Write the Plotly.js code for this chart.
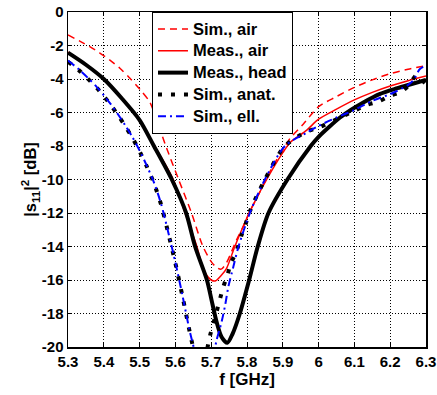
<!DOCTYPE html>
<html><head><meta charset="utf-8">
<script src="https://cdn.plot.ly/plotly-3.0.1.min.js"></script>
<style>html,body{margin:0;padding:0;background:#fff}</style>
</head><body><div id="chart" style="width:437px;height:395px"></div>
<script>
// Sim., air (red dashed)
const fSimAir = [5.30,5.334,5.361,5.389,5.417,5.445,5.473,5.501,5.529,5.550,5.575,5.609,5.645,5.677,5.700,5.715,5.728,5.742,5.757,5.771,5.790,5.808,5.830,5.850,5.878,5.900,5.920,5.957,6.000,6.050,6.100,6.150,6.200,6.250,6.300];
const dbSimAir = [-1.37,-1.75,-2.07,-2.45,-2.87,-3.36,-3.95,-4.62,-5.40,-6.6,-8.1,-10.0,-12.0,-14.0,-14.9,-15.25,-15.35,-15.0,-14.3,-13.6,-12.8,-11.9,-11.0,-10.1,-9.0,-8.24,-7.55,-6.7,-5.65,-5.05,-4.5,-4.05,-3.68,-3.42,-3.2];
// Meas., air (red solid)
const fMeasAir = [5.30,5.35,5.40,5.45,5.50,5.55,5.594,5.627,5.660,5.673,5.687,5.700,5.711,5.729,5.743,5.766,5.806,5.855,5.900,5.920,5.967,6.000,6.050,6.100,6.150,6.200,6.250,6.300];
const dbMeasAir = [-2.4,-3.12,-3.98,-5.1,-6.5,-8.3,-10.0,-12.0,-14.0,-15.0,-15.7,-16.0,-16.06,-15.7,-15.3,-14.0,-12.0,-10.0,-8.4,-7.8,-7.05,-6.4,-5.8,-5.25,-4.8,-4.42,-4.1,-3.82];
// Meas., head (black solid)
const fMeasHead = [5.30,5.35,5.40,5.45,5.50,5.54,5.59,5.63,5.655,5.688,5.701,5.715,5.729,5.745,5.76,5.78,5.806,5.83,5.86,5.913,5.978,6.00,6.03,6.06,6.09,6.125,6.17,6.22,6.26,6.30];
const dbMeasHead = [-2.43,-3.15,-4.0,-5.15,-6.45,-8.0,-10.0,-12.0,-14.0,-16.0,-17.2,-18.5,-19.4,-19.75,-19.2,-18.0,-16.0,-14.0,-12.0,-10.0,-8.0,-7.45,-6.85,-6.3,-5.85,-5.4,-4.9,-4.55,-4.3,-4.05];
// Sim., anat. (black dotted)
const fSimAnat = [5.30,5.33,5.355,5.38,5.40,5.42,5.44,5.46,5.48,5.50,5.52,5.54,5.56,5.58,5.60,5.62,5.64,5.65,5.67,5.69,5.697,5.706,5.715,5.725,5.734,5.747,5.753,5.766,5.775,5.785,5.794,5.808,5.85,5.906,5.967,6.00,6.05,6.10,6.134,6.166,6.20,6.232,6.255,6.272,6.285,6.30];
const dbSimAnat = [-2.97,-3.47,-3.97,-4.52,-5.02,-5.57,-6.17,-6.82,-7.52,-8.32,-9.22,-10.22,-11.5,-13.2,-15.0,-17.0,-19.1,-20.1,-22.5,-20.0,-19.3,-18.6,-17.9,-17.1,-16.4,-15.6,-15.1,-14.5,-14.0,-13.3,-12.8,-11.9,-10.0,-8.0,-7.14,-6.9,-6.4,-5.9,-5.55,-5.35,-5.0,-4.75,-4.3,-3.8,-4.0,-4.3];
// Sim., ell. (blue dash-dot)
const fSimEll = [5.30,5.33,5.355,5.38,5.40,5.42,5.44,5.46,5.48,5.50,5.52,5.54,5.56,5.58,5.60,5.62,5.64,5.652,5.68,5.71,5.715,5.729,5.739,5.748,5.762,5.775,5.808,5.85,5.906,5.967,6.00,6.05,6.10,6.15,6.20,6.25,6.265,6.283,6.30];
const dbSimEll = [-2.9,-3.42,-3.92,-4.47,-4.97,-5.52,-6.12,-6.77,-7.47,-8.27,-9.17,-10.17,-11.45,-13.15,-14.95,-16.95,-19.05,-20.1,-23.0,-20.1,-19.6,-18.5,-17.5,-16.4,-15.2,-14.1,-12.0,-10.0,-8.0,-7.2,-6.8,-6.3,-5.85,-5.3,-4.9,-4.35,-4.06,-3.4,-3.2];

const seriesNames = ['Sim., air','Meas., air','Meas., head','Sim., anat.','Sim., ell.'];
const xTickVals = [5.3,5.4,5.5,5.6,5.7,5.8,5.9,6.0,6.1,6.2,6.3];
const xTickText = ['5.3','5.4','5.5','5.6','5.7','5.8','5.9','6','6.1','6.2','6.3'];
const yTickVals = [0,-2,-4,-6,-8,-10,-12,-14,-16,-18,-20];
const yTickText = ['0','-2','-4','-6','-8','-10','-12','-14','-16','-18','-20'];
const xTitle = 'f [GHz]';
const yTitle = '|s<sub>11</sub>|<sup>2</sup> [dB]';

const FONT = 'Arial, Liberation Sans, sans-serif';
const fnt = (sz) => ({family:FONT, size:sz, color:'#000', weight:700});
const legName = s => '<span style="font-size:16.5px">' + s + '</span>';
const SM = 0.8;
const traces = [
  {x:fSimAir, y:dbSimAir, name:legName(seriesNames[0]), mode:'lines', line:{color:'#ff0000', width:1.5, dash:'7px,5px', shape:'spline', smoothing:SM}},
  {x:fMeasAir, y:dbMeasAir, name:legName(seriesNames[1]), mode:'lines', line:{color:'#ff0000', width:1.5, shape:'spline', smoothing:SM}},
  {x:fMeasHead, y:dbMeasHead, name:legName(seriesNames[2]), mode:'lines', line:{color:'#000000', width:4, shape:'spline', smoothing:SM}},
  {x:fSimAnat, y:dbSimAnat, name:legName(seriesNames[3]), mode:'lines', line:{color:'#000000', width:4, dash:'4px,9px', shape:'spline', smoothing:SM}},
  {x:fSimEll, y:dbSimEll, name:legName(seriesNames[4]), mode:'lines', line:{color:'#0000ff', width:2, dash:'8px,4px,2px,4px', shape:'spline', smoothing:SM}}
];

const axisCommon = {
  showline:true, linecolor:'#000', linewidth:1.5, mirror:'ticks',
  ticks:'inside', ticklen:4, tickwidth:1, tickcolor:'#000',
  showgrid:true, gridcolor:'#000', gridwidth:1, griddash:'1px,2px',
  zeroline:false, tickfont:fnt(15)
};

const layout = {
  width:437, height:395,
  margin:{l:68, r:11, t:12, b:48},
  paper_bgcolor:'#fff', plot_bgcolor:'#fff',
  showlegend:true,
  legend:{x:0.2346, y:1, xanchor:'left', yanchor:'top', bgcolor:'#fff', bordercolor:'#000', borderwidth:1,
          font:fnt(14.5), tracegroupgap:0},
  xaxis:Object.assign({}, axisCommon, {range:[5.3,6.3], tickmode:'array', tickvals:xTickVals, ticktext:xTickText,
          title:{text:xTitle, font:fnt(17), standoff:4}}),
  yaxis:Object.assign({}, axisCommon, {range:[-20,0], tickmode:'array', tickvals:yTickVals, ticktext:yTickText,
          title:{text:yTitle, font:fnt(16.5), standoff:0}})
};

Plotly.newPlot('chart', traces, layout, {displayModeBar:false, staticPlot:true});
</script></body></html>
